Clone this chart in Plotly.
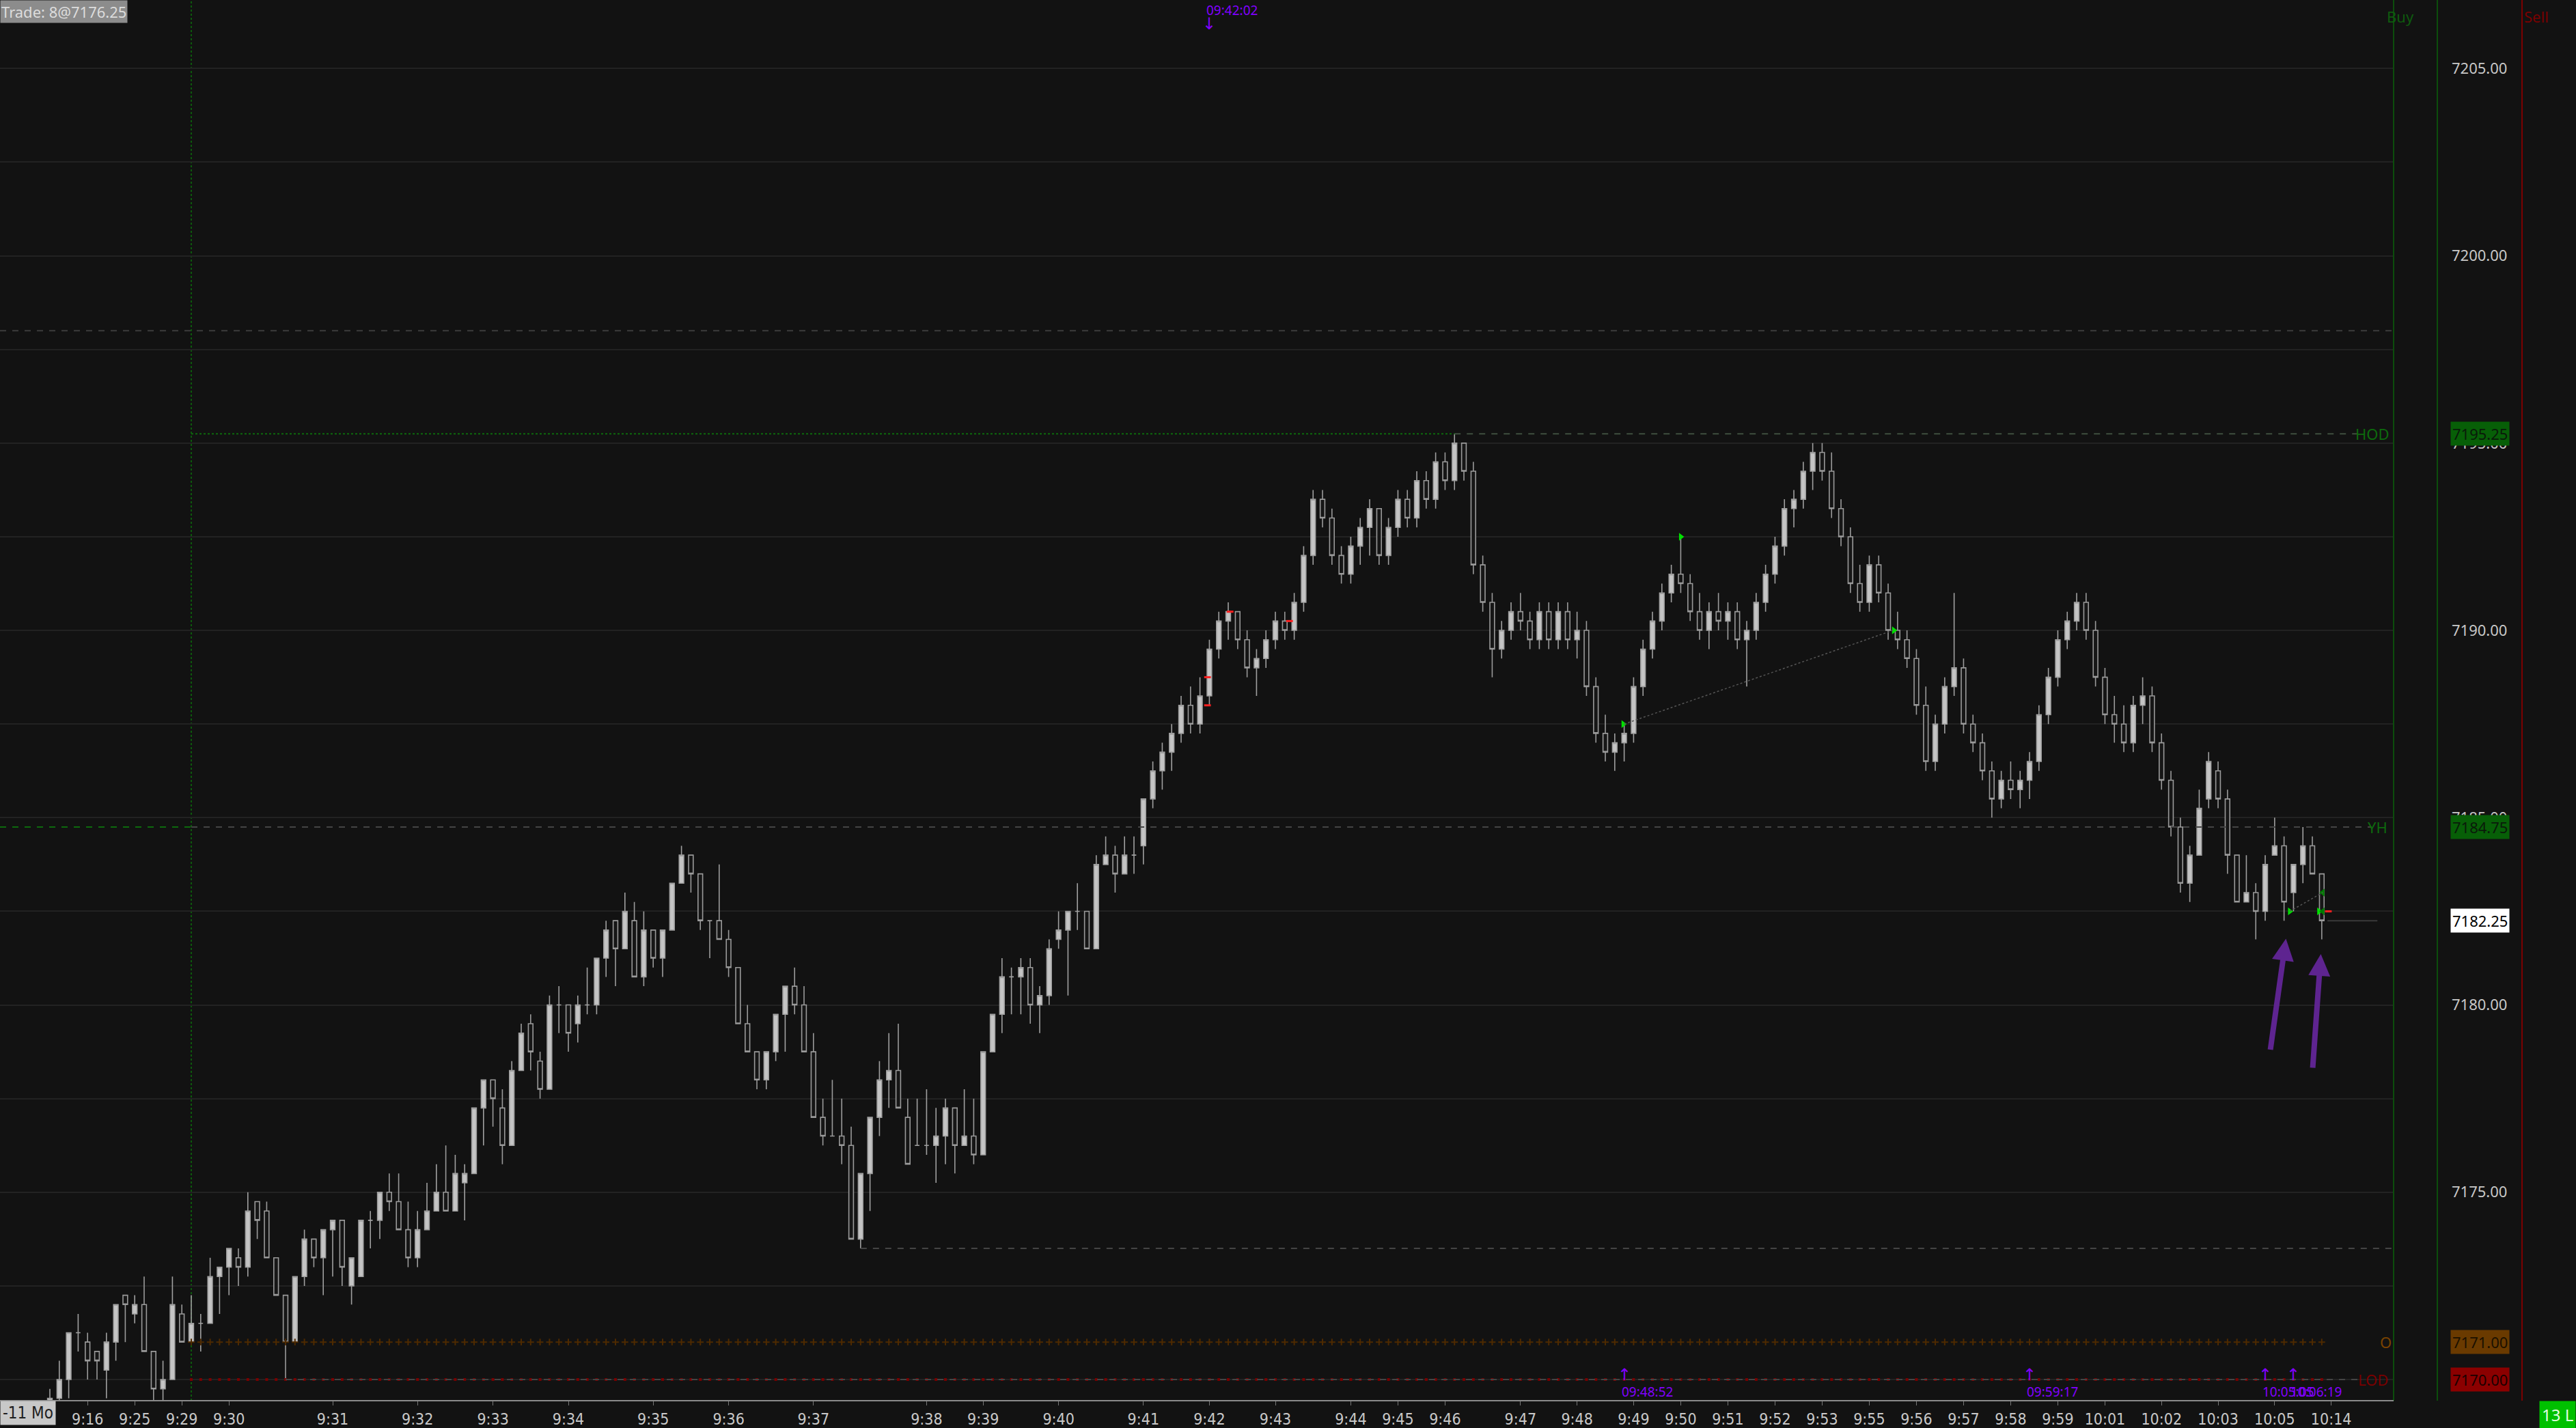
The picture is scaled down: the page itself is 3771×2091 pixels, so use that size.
import plotly.graph_objects as go

# ---------------- data ----------------
opens = [7169.0,7169.5,7170.0,7171.25,7171.0,7170.75,7170.25,7171.0,7172.25,7171.75,
         7172.0,7170.75,7169.75,7170.0,7171.75,7171.0,7171.5,7171.5,7172.75,7173.0,
         7173.25,7173.0,7174.75,7174.5,7173.25,7172.25,7171.0,7172.75,7173.75,7173.25,
         7174.0,7174.25,7172.5,7172.75,7174.25,7174.25,7175.0,7174.75,7174.0,7173.25,
         7174.0,7174.5,7175.0,7174.5,7175.25,7175.5,7177.25,7178.0,7177.25,7176.25,
         7178.25,7179.5,7178.5,7177.75,7180.0,7180.0,7179.5,7180.0,7180.0,7181.25,
         7182.25,7181.5,7182.25,7180.75,7182.0,7181.25,7182.0,7183.25,7184.0,7183.5,
         7182.25,7182.25,7181.75,7181.0,7179.5,7178.75,7178.0,7178.75,7179.75,7180.5,
         7180.0,7178.75,7177.0,7176.5,7176.5,7176.25,7173.75,7175.5,7177.0,7178.0,
         7178.25,7177.0,7176.25,7176.25,7176.25,7176.5,7177.25,7176.25,7176.5,7176.0,
         7178.75,7179.75,7180.75,7180.75,7181.0,7180.0,7180.25,7181.75,7182.0,7182.5,
         7182.5,7181.5,7183.75,7184.0,7183.5,7184.0,7184.25,
         7185.5,7186.25,7186.75,7187.25,7188.0,7187.5,7188.25,7189.5,7190.25,7190.5,
         7189.75,7189.0,7189.25,7189.75,7190.25,7190.0,7190.75,7192.0,7193.5,7193.0,
         7192.0,7191.5,7192.25,7192.75,7193.25,7192.0,7192.75,7193.5,7193.0,7194.0,
         7193.5,7194.5,7194.0,7195.0,7194.25,7191.75,7190.75,7189.5,7190.0,7190.5,
         7190.25,7189.75,7190.5,7189.75,7190.5,7189.75,7190.0,7188.5,7187.25,7186.75,
         7187.0,7187.25,7188.5,7189.5,7190.25,7191.0,7191.5,7191.25,7190.5,7190.0,
         7190.5,7190.25,7190.5,7189.75,7190.0,7190.75,7191.5,7192.25,7193.25,7193.5,
         7194.25,7194.75,7194.25,7193.25,7192.5,7191.25,7190.75,7191.75,7191.0,7190.0,
         7189.75,7189.25,7188.0,7186.5,7187.5,7188.5,7189.0,7187.5,7187.0,7186.25,
         7185.5,7186.0,7185.75,7186.0,7186.5,7187.75,7188.75,7189.75,7190.25,7190.75,
         7190.0,7188.75,7187.75,7187.5,7187.0,7188.0,7188.25,7187.0,7186.0,7184.75,
         7183.25,7184.0,7185.5,7186.25,7185.5,7184.0,7182.75,7183.0,7182.5,7184.0,
         7184.25,7183.0,7183.75,7184.25,7183.5]
highs = [7169.75,7170.5,7171.25,7171.75,7171.25,7170.75,7171.25,7172.0,7172.25,7172.25,
         7172.75,7170.75,7170.5,7172.75,7172.0,7172.25,7171.75,7173.25,7173.0,7173.5,
         7173.5,7175.0,7174.75,7174.75,7173.25,7172.25,7172.75,7174.0,7173.75,7174.0,
         7174.25,7174.25,7173.25,7174.25,7174.5,7175.0,7175.5,7175.5,7174.75,7174.5,
         7175.25,7175.75,7176.25,7176.0,7175.75,7177.25,7178.0,7178.0,7177.75,7178.5,
         7179.5,7179.75,7178.75,7180.25,7180.5,7180.0,7180.25,7181.0,7181.25,7182.25,
         7182.25,7183.0,7182.75,7182.5,7182.0,7182.0,7183.25,7184.25,7184.0,7183.5,
         7182.25,7183.75,7182.0,7181.0,7180.0,7178.75,7178.75,7179.75,7180.5,7181.0,
         7180.5,7179.25,7177.5,7178.0,7177.5,7176.75,7175.5,7177.0,7178.5,7179.25,
         7179.5,7177.5,7177.5,7177.75,7177.25,7177.5,7177.25,7177.75,7177.5,7178.75,
         7179.75,7181.25,7181.0,7181.25,7181.25,7180.5,7181.75,7182.5,7182.5,7183.25,
         7182.5,7184.0,7184.5,7184.25,7184.5,7184.5,7185.5,
         7186.5,7187.0,7187.5,7188.25,7188.5,7188.75,7189.75,7190.5,7190.75,7190.5,
         7190.0,7189.5,7190.0,7190.5,7190.5,7191.0,7192.25,7193.75,7193.75,7193.25,
         7192.25,7192.5,7193.0,7193.5,7193.25,7193.0,7193.75,7193.75,7194.25,7194.25,
         7194.75,7194.75,7195.25,7195.0,7194.5,7192.0,7191.0,7190.25,7190.75,7191.0,
         7190.5,7190.75,7190.75,7190.75,7190.75,7190.5,7190.25,7188.75,7187.75,7187.25,
         7187.5,7188.75,7189.75,7190.5,7191.25,7191.75,7192.5,7191.5,7191.0,7190.75,
         7191.0,7190.75,7190.75,7190.25,7191.0,7191.75,7192.5,7193.5,7193.75,7194.5,
         7195.0,7195.0,7194.75,7193.5,7192.75,7191.75,7192.0,7192.0,7191.25,7190.5,
         7190.0,7189.5,7188.5,7187.75,7188.75,7191.0,7189.25,7187.75,7187.25,7186.5,
         7186.25,7186.5,7186.25,7186.75,7188.0,7189.0,7190.0,7190.5,7191.0,7191.0,
         7190.25,7189.0,7188.25,7188.0,7188.25,7188.75,7188.5,7187.25,7186.25,7185.0,
         7184.25,7185.75,7186.75,7186.5,7185.75,7184.0,7184.0,7183.25,7184.0,7185.0,
         7184.5,7183.75,7184.75,7184.5,7183.5]
lows = [7168.75,7169.25,7169.5,7170.75,7170.0,7170.0,7169.5,7170.5,7171.0,7171.5,
        7170.75,7169.25,7169.25,7170.0,7171.0,7171.0,7170.75,7171.5,7171.75,7172.25,
        7172.5,7172.75,7173.75,7173.25,7172.25,7170.0,7171.0,7172.5,7173.0,7172.25,
        7172.75,7172.5,7172.0,7172.75,7173.5,7173.75,7174.5,7174.0,7173.0,7173.0,
        7174.0,7174.5,7174.5,7174.5,7174.25,7175.5,7176.25,7176.75,7175.75,7176.25,
        7178.25,7178.25,7177.5,7177.75,7179.25,7178.75,7179.0,7179.75,7179.75,7180.75,
        7180.5,7181.5,7180.75,7180.5,7181.0,7180.75,7182.0,7183.25,7183.0,7182.0,
        7181.25,7181.75,7180.75,7179.5,7178.75,7177.75,7177.75,7178.5,7178.75,7179.75,
        7178.75,7177.0,7176.25,7176.5,7175.75,7173.75,7173.5,7174.5,7176.5,7177.25,
        7177.25,7175.75,7176.25,7176.0,7175.25,7175.75,7175.5,7176.25,7175.75,7176.0,
        7178.75,7179.25,7179.75,7179.75,7179.5,7179.25,7180.0,7181.5,7180.25,7182.0,
        7181.5,7181.5,7183.75,7183.0,7183.5,7183.5,7183.75,
        7185.25,7185.75,7186.25,7187.0,7187.25,7187.25,7188.0,7189.25,7189.75,7189.5,
        7188.75,7188.25,7189.0,7189.5,7189.75,7189.75,7190.5,7191.75,7192.75,7191.75,
        7191.25,7191.25,7191.75,7192.0,7191.75,7191.75,7192.5,7192.75,7192.75,7193.25,
        7193.25,7193.75,7193.75,7194.0,7191.5,7190.5,7188.75,7189.25,7189.75,7190.0,
        7189.5,7189.5,7189.5,7189.5,7189.5,7189.25,7188.25,7187.0,7186.5,7186.25,
        7186.5,7187.0,7188.25,7189.25,7190.0,7190.75,7191.0,7190.25,7189.75,7189.5,
        7190.0,7189.75,7189.5,7188.5,7189.75,7190.5,7191.25,7192.0,7192.75,7193.25,
        7193.75,7194.0,7193.0,7192.25,7191.0,7190.5,7190.5,7190.75,7189.75,7189.5,
        7189.0,7187.75,7186.25,7186.25,7187.25,7188.25,7187.25,7186.75,7186.0,7185.0,
        7185.25,7185.5,7185.25,7185.5,7186.25,7187.5,7188.5,7189.5,7190.0,7189.75,
        7188.5,7187.5,7187.0,7186.75,7186.75,7187.5,7186.75,7185.75,7184.5,7183.0,
        7182.75,7184.0,7185.25,7185.25,7183.5,7182.75,7182.75,7181.75,7182.25,7184.0,
        7182.25,7182.5,7183.25,7183.5,7181.75]
closes = [7169.5,7170.0,7171.25,7171.25,7170.5,7170.5,7171.0,7172.0,7172.0,7172.0,
          7170.75,7169.75,7170.0,7172.0,7171.0,7171.5,7171.5,7172.75,7173.0,7173.5,
          7173.0,7174.5,7174.25,7173.25,7172.25,7171.0,7172.75,7173.75,7173.25,7174.0,
          7174.25,7173.0,7173.25,7174.25,7174.25,7175.0,7174.75,7174.0,7173.25,7174.0,
          7174.5,7175.0,7174.5,7175.5,7175.5,7177.25,7178.0,7177.5,7176.25,7178.25,
          7179.25,7178.75,7177.75,7180.0,7180.0,7179.25,7180.0,7180.0,7181.25,7182.0,
          7181.5,7182.5,7180.75,7182.0,7181.25,7182.0,7183.25,7184.0,7183.5,7182.25,
          7182.25,7181.75,7181.0,7179.5,7178.75,7178.0,7178.75,7179.75,7180.5,7180.0,
          7178.75,7177.0,7176.5,7176.5,7176.25,7173.75,7175.5,7177.0,7178.0,7178.25,
          7177.25,7175.75,7176.25,7176.25,7176.5,7177.25,7176.25,7176.5,7176.0,7178.75,
          7179.75,7180.75,7180.75,7181.0,7180.0,7180.25,7181.5,7182.0,7182.5,7182.5,
          7181.5,7183.75,7184.0,7183.5,7184.0,7184.0,7185.5,
          7186.25,7186.75,7187.25,7188.0,7187.5,7188.25,7189.5,7190.25,7190.5,7189.75,
          7189.0,7189.25,7189.75,7190.25,7190.0,7190.75,7192.0,7193.5,7193.0,7192.0,
          7191.5,7192.25,7192.75,7193.25,7192.0,7192.75,7193.5,7193.0,7194.0,7193.5,
          7194.5,7194.0,7195.0,7194.25,7191.75,7190.75,7189.5,7190.0,7190.5,7190.25,
          7189.75,7190.5,7189.75,7190.5,7189.75,7190.0,7188.5,7187.25,7186.75,7187.0,
          7187.25,7188.5,7189.5,7190.25,7191.0,7191.5,7191.25,7190.5,7190.0,7190.5,
          7190.25,7190.5,7189.75,7190.0,7190.75,7191.5,7192.25,7193.25,7193.5,7194.25,
          7194.75,7194.25,7193.25,7192.5,7191.25,7190.75,7191.75,7191.0,7190.0,7189.75,
          7189.25,7188.0,7186.5,7187.5,7188.5,7189.0,7187.5,7187.0,7186.25,7185.5,
          7186.0,7185.75,7186.0,7186.5,7187.75,7188.75,7189.75,7190.25,7190.75,7190.0,
          7188.75,7187.75,7187.5,7187.0,7188.0,7188.25,7187.0,7186.0,7184.75,7183.25,
          7184.0,7185.25,7186.5,7185.5,7184.0,7182.75,7183.0,7182.5,7183.75,7184.25,
          7182.75,7183.75,7184.25,7183.5,7182.25]

tick_bars = [4, 9, 14, 19, 30, 39, 47, 55, 64, 72, 81, 93, 99, 107, 116, 123, 130, 138,
             143, 148, 156, 162, 168, 173, 178, 183, 188, 193, 198, 203, 208, 213, 218,
             224, 230, 236, 242]
tick_labels = ["9:16", "9:25", "9:29", "9:30", "9:31", "9:32", "9:33", "9:34", "9:35",
               "9:36", "9:37", "9:38", "9:39", "9:40", "9:41", "9:42", "9:43", "9:44",
               "9:45", "9:46", "9:47", "9:48", "9:49", "9:50", "9:51", "9:52", "9:53",
               "9:55", "9:56", "9:57", "9:58", "9:59", "10:01", "10:02", "10:03", "10:05",
               "10:14"]

price_ticks = [7175, 7180, 7185, 7190, 7195, 7200, 7205]

session_start_bar = 15
last_bar = 241
levels = {"HOD": 7195.25, "YH": 7184.75, "O": 7171.00, "LOD": 7170.00}
prior_level = 7198.0
swing_low = 7173.5
swing_low_bar = 86
lod_bar = 25
hod_bar = 149
last_price = 7182.25

# fills / order markers
sell_fill_x = [122.8, 122.8, 125.2, 131.5, 241.7]
sell_fill_y = [7188.75, 7188.0, 7190.5, 7190.25, 7182.5]
buy_fill_x = [166.9, 173.0, 195.6, 237.6, 240.7]
buy_fill_y = [7187.5, 7192.5, 7190.0, 7182.5, 7182.5]
exit_x = [241.1, 241.1]
exit_y = [7183.0, 7182.5]
link_segments = [((167.0, 7187.5), (195.5, 7190.0)), ((237.6, 7182.5), (241.1, 7183.0))]

trade_time_top = ("09:42:02", 123)
trade_times_bottom = [("09:48:52", 167), ("09:59:17", 210), ("10:05:05", 235), ("10:06:19", 238)]

# ---------------- figure ----------------
BG = "#121212"
X0, X1 = -5.29, 248.62
Y0, Y1 = 7169.435, 7206.83
W, H = 3771, 2091
PLOT_R = 3504
PLOT_B = 2053
xs = list(range(len(opens)))

fig = go.Figure()

fig.add_trace(go.Candlestick(
    x=xs, open=opens, high=highs, low=lows, close=closes,
    increasing=dict(fillcolor="#c4c4c4", line=dict(color="#a0a0a0", width=1.6)),
    decreasing=dict(fillcolor="#161616", line=dict(color="#9a9a9a", width=1.6)),
    whiskerwidth=0, showlegend=False, hoverinfo="skip"))

def pxx(px):
    return px / PLOT_R

def pyy(py):
    # py = pixel from top of the figure
    return (PLOT_B - py) / PLOT_B

shapes = []
shapes.append(dict(type="line", xref="x", yref="paper", x0=session_start_bar, x1=session_start_bar,
                   y0=0, y1=1, line=dict(color="#0d5a0d", width=2, dash="dot"), layer="below"))
shapes.append(dict(type="line", xref="paper", yref="y", x0=0, x1=1, y0=prior_level, y1=prior_level,
                   line=dict(color="#3c3c3c", width=2, dash="dash")))
shapes.append(dict(type="line", xref="x", yref="y", x0=X0, x1=session_start_bar,
                   y0=levels["YH"], y1=levels["YH"], line=dict(color="#0d6a0d", width=2, dash="dash")))
shapes.append(dict(type="line", xref="x", yref="y", x0=session_start_bar, x1=246.3,
                   y0=levels["YH"], y1=levels["YH"], line=dict(color="#444444", width=2, dash="dash")))
shapes.append(dict(type="line", xref="x", yref="y", x0=session_start_bar, x1=hod_bar,
                   y0=levels["HOD"], y1=levels["HOD"], line=dict(color="#0d6a0d", width=2, dash="dot")))
shapes.append(dict(type="line", xref="x", yref="y", x0=hod_bar, x1=244.8,
                   y0=levels["HOD"], y1=levels["HOD"], line=dict(color="#3f4f3f", width=2, dash="dash")))
shapes.append(dict(type="line", xref="x", yref="y", x0=swing_low_bar, x1=X1,
                   y0=swing_low, y1=swing_low, line=dict(color="#444444", width=2, dash="dash")))
shapes.append(dict(type="line", xref="x", yref="y", x0=lod_bar, x1=245.0,
                   y0=levels["LOD"], y1=levels["LOD"], line=dict(color="#444444", width=2, dash="dash")))
shapes.append(dict(type="line", xref="x", yref="y", x0=last_bar + 0.6, x1=246.9,
                   y0=last_price, y1=last_price, line=dict(color="#3a3a3a", width=2)))
for (xa, ya), (xb, yb) in link_segments:
    shapes.append(dict(type="line", xref="x", yref="y", x0=xa, x1=xb, y0=ya, y1=yb,
                       line=dict(color="#555555", width=1.5, dash="dot")))
for xp, col in [(PLOT_R, "#0b4d0b"), (3568, "#0b4d0b"), (3692, "#7a0000")]:
    shapes.append(dict(type="line", xref="paper", yref="paper", x0=pxx(xp), x1=pxx(xp), y0=0, y1=1,
                       line=dict(color=col, width=2)))
shapes.append(dict(type="line", xref="paper", yref="paper", x0=0, x1=1, y0=0, y1=0,
                   line=dict(color="#8a8a8a", width=2)))

sess = list(range(session_start_bar, last_bar + 1))
fig.add_trace(go.Scatter(x=sess, y=[levels["O"]] * len(sess), mode="markers",
                         marker=dict(symbol="cross-thin", size=7, line=dict(color="#4e2a00", width=2)),
                         showlegend=False, hoverinfo="skip"))
fig.add_trace(go.Scatter(x=sess, y=[levels["LOD"]] * len(sess), mode="markers",
                         marker=dict(symbol="square", size=4, color="#7a0000"),
                         showlegend=False, hoverinfo="skip"))
fig.add_trace(go.Scatter(x=sell_fill_x, y=sell_fill_y, mode="markers",
                         marker=dict(symbol="line-ew", size=7, line=dict(color="#ff2020", width=3)),
                         showlegend=False, hoverinfo="skip"))
fig.add_trace(go.Scatter(x=buy_fill_x, y=buy_fill_y, mode="markers",
                         marker=dict(symbol="triangle-right", size=10, color="#00e000"),
                         showlegend=False, hoverinfo="skip"))
fig.add_trace(go.Scatter(x=exit_x, y=exit_y, mode="markers",
                         marker=dict(symbol="triangle-left", size=10, color="#007a00"),
                         showlegend=False, hoverinfo="skip"))

annotations = []
for name, x_px, col in [("HOD", 3446, "#0d6a0d"), ("YH", 3464, "#0d6a0d"), ("O", 3482, "#7a4200"), ("LOD", 3450, "#7a0000")]:
    annotations.append(dict(xref="paper", yref="y", x=pxx(x_px), y=levels[name], text=name,
                            showarrow=False, xanchor="left", yanchor="middle",
                            font=dict(family="Noto Sans", size=22, color=col)))
for val, bg, fg in [(levels["HOD"], "#075f07", "#0a1a0a"), (levels["YH"], "#075f07", "#0a1a0a"),
                    (last_price, "#ffffff", "#000000"), (levels["O"], "#6a3a00", "#1a1000"),
                    (levels["LOD"], "#8b0000", "#1a0000")]:
    annotations.append(dict(xref="paper", yref="y", x=pxx(3630), y=val, text=f"{val:.2f}",
                            showarrow=False, xanchor="center", yanchor="middle", bgcolor=bg, borderpad=2,
                            font=dict(family="Noto Sans", size=22, color=fg)))
annotations.append(dict(xref="paper", yref="paper", x=pxx(3536), y=pyy(24), yanchor="middle", text="Buy",
                        showarrow=False, font=dict(family="Noto Sans", size=22, color="#0e5a0e")))
annotations.append(dict(xref="paper", yref="paper", x=pxx(3733), y=pyy(24), yanchor="middle", text="Sell",
                        showarrow=False, font=dict(family="Noto Sans", size=22, color="#7a0000")))
annotations.append(dict(xref="paper", yref="paper", x=0, y=1, xanchor="left", yanchor="top",
                        text="Trade: 8@7176.25", showarrow=False, bgcolor="#8c8c8c", borderpad=1,
                        font=dict(family="Noto Sans", size=22, color="#dcdcdc")))
annotations.append(dict(xref="paper", yref="paper", x=0, y=0, xanchor="left", yanchor="top",
                        text="-11 Mo", showarrow=False, bgcolor="#c8c8c8", borderpad=3,
                        font=dict(family="Liberation Sans Narrow, DejaVu Sans Condensed, Noto Sans", size=24, color="#202020")))
annotations.append(dict(xref="paper", yref="paper", x=1 + (3771 - PLOT_R) / PLOT_R, y=0, xanchor="right", yanchor="top",
                        text="13 L", showarrow=False, bgcolor="#00c000", borderpad=3,
                        font=dict(family="Noto Sans", size=24, color="#e0ffe0")))
PURPLE = "#8000ff"
t_txt, t_bar = trade_time_top
annotations.append(dict(xref="x", yref="paper", x=t_bar, y=pyy(15), xanchor="left", yanchor="middle",
                        text=t_txt, showarrow=False, xshift=-6,
                        font=dict(family="Noto Sans", size=19, color=PURPLE)))
annotations.append(dict(xref="x", yref="paper", x=t_bar, y=pyy(35), yanchor="middle", text="↓", showarrow=False,
                        font=dict(family="DejaVu Sans", size=24, color=PURPLE)))
for txt, b in trade_times_bottom:
    annotations.append(dict(xref="x", yref="paper", x=b, y=pyy(2015), yanchor="middle", text="↑", showarrow=False,
                            font=dict(family="DejaVu Sans", size=24, color=PURPLE)))
    annotations.append(dict(xref="x", yref="paper", x=b, y=pyy(2040), yanchor="middle", text=txt, showarrow=False,
                            xanchor="left", xshift=-6, font=dict(family="Noto Sans", size=19, color=PURPLE)))
for tip_bar, tip_price, ax, ay in [(237.2, 7181.77, -23, 164), (240.9, 7181.36, -12, 168)]:
    annotations.append(dict(xref="x", yref="y", x=tip_bar, y=tip_price, ax=ax, ay=ay, showarrow=True,
                            arrowhead=2, arrowsize=0.8, arrowwidth=8, arrowcolor="#5e2490", standoff=0, text=""))

fig.update_layout(
    width=W, height=H, paper_bgcolor=BG, plot_bgcolor=BG,
    margin=dict(l=0, r=W - PLOT_R, t=0, b=H - PLOT_B),
    showlegend=False, shapes=shapes, annotations=annotations,
    xaxis=dict(range=[X0, X1], tickmode="array", tickvals=tick_bars, ticktext=tick_labels,
               ticks="outside", ticklen=6, tickcolor="#777777", showgrid=False, zeroline=False,
               rangeslider=dict(visible=False), showline=False,
               tickfont=dict(family="Liberation Sans Narrow, DejaVu Sans Condensed, Noto Sans", size=23, color="#c8c8c8")),
    yaxis=dict(range=[Y0, Y1], side="right", tickmode="array", tickvals=price_ticks,
               ticktext=[f"{v:.2f}" for v in price_ticks], ticks="", showgrid=True, gridcolor="#222222",
               gridwidth=2, zeroline=False, showline=False, ticklabelstandoff=84,
               minor=dict(dtick=2.5, tick0=7175, showgrid=True, gridcolor="#222222", gridwidth=2),
               tickfont=dict(family="Noto Sans", size=22, color="#c8c8c8")),
)

fig.write_html("out.html", config={"displayModeBar": False},
               post_script="document.body.style.margin='0';document.body.style.background='#121212';")
